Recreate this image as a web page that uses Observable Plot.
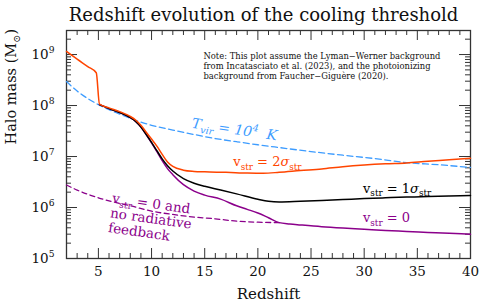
<!DOCTYPE html>
<html><head><meta charset="utf-8">
<script src="https://cdn.jsdelivr.net/npm/d3@7"></script>
<script src="https://cdn.jsdelivr.net/npm/@observablehq/plot@0.6"></script>
<style>
body{margin:0;background:#fff;}
svg{font-family:"DejaVu Serif",serif;}
</style>
</head><body><div id="chart"></div>
<script>
// ---- data ----
const zOrange = [2, 3, 4, 4.8, 5.1, 6, 7, 8, 8.5, 9, 9.5, 10, 10.5, 11, 11.5, 12, 13, 14, 15, 17, 19, 20.5, 22, 24, 26, 28, 30, 32, 34, 36, 38, 40];
const mOrange = [1.15e9, 8.1e8, 5.8e8, 4.4e8, 1.07e8, 9.0e7, 7.6e7, 6.1e7, 5.2e7, 4.1e7, 3.0e7, 2.2e7, 1.6e7, 1.1e7, 7.8e6, 6.4e6, 5.4e6, 5.1e6, 5.0e6, 4.9e6, 4.75e6, 4.7e6, 4.9e6, 5.3e6, 5.7e6, 6.3e6, 6.8e6, 7.2e6, 7.5e6, 8.1e6, 8.6e6, 9.2e6];

const zBlack = [5.1, 6, 7, 8, 8.5, 9, 9.5, 10, 10.5, 11, 11.5, 12, 13, 14, 15, 16.5, 18, 20, 21, 22, 24, 26, 28, 30, 32, 34, 36, 38, 40];
const mBlack = [1.04e8, 8.7e7, 7.3e7, 5.8e7, 4.9e7, 3.8e7, 2.7e7, 1.9e7, 1.3e7, 9.0e6, 6.6e6, 5.2e6, 3.7e6, 3.0e6, 2.6e6, 2.2e6, 1.85e6, 1.45e6, 1.32e6, 1.28e6, 1.32e6, 1.37e6, 1.43e6, 1.5e6, 1.55e6, 1.6e6, 1.64e6, 1.68e6, 1.72e6];

const zPurple = [5.1, 6, 7, 8, 8.5, 9, 9.5, 10, 10.5, 11, 11.5, 12, 13, 14, 15, 16.5, 18, 19, 20, 21, 22, 23, 24, 26, 28, 30, 32, 34, 36, 38, 40];
const mPurple = [1.04e8, 8.7e7, 7.3e7, 5.8e7, 4.9e7, 3.8e7, 2.7e7, 1.85e7, 1.25e7, 8.3e6, 5.8e6, 4.4e6, 2.8e6, 2.1e6, 1.75e6, 1.46e6, 1.08e6, 9.2e5, 7.8e5, 6.3e5, 5.05e5, 4.75e5, 4.55e5, 4.2e5, 3.95e5, 3.75e5, 3.55e5, 3.4e5, 3.25e5, 3.12e5, 3.0e5];

const zNoFb = [2, 3, 4, 5, 6, 7, 8, 10, 12, 14, 16, 18, 20, 22];
const mNoFb = [2.76e6, 2.2e6, 1.82e6, 1.55e6, 1.35e6, 1.2e6, 1.08e6, 8.5e5, 7.3e5, 6.5e5, 6.0e5, 5.4e5, 5.15e5, 5.05e5];

const zTvir = [2, 3, 4, 5, 6, 7, 8, 10, 12, 14, 16, 18, 20, 22, 25, 28, 31, 34, 37, 40];
const mTvir = [2.95e8, 1.92e8, 1.37e8, 1.04e8, 8.3e7, 6.8e7, 5.6e7, 4.1e7, 3.3e7, 2.7e7, 2.25e7, 1.95e7, 1.7e7, 1.5e7, 1.25e7, 1.06e7, 9.1e6, 7.6e6, 6.9e6, 6.1e6];

const xMajor = [5, 10, 15, 20, 25, 30, 35, 40];
const xMinor = d3.range(3, 40).filter(v => v % 5 !== 0);
const yMajor = [1e5, 1e6, 1e7, 1e8, 1e9];
const yMinor = [];
for (let e = 5; e <= 9; e++) for (let k = 2; k <= 9; k++) { const v = k * 10 ** e; if (v < 2.9e9) yMinor.push(v); }

const title = "Redshift evolution of the cooling threshold";
const note = "Note: This plot assume the Lyman\u2212Werner background\nfrom Incatasciato et al. (2023), and the photoionizing\nbackground from Faucher\u2212Gigu\u00e8re (2020).";
const xLabel = "Redshift";
const yLabel = "Halo mass (M_{\u2299})";

// curve labels (text, anchor redshift, anchor mass)
const labTvir = {text: "T_{vir} = 10^{4}  K", z: 17.8, m: 3.37e7};
const lab2s = {text: "v_{str} = 2*{\u03c3}_{str}", z: 20.9, m: 7.7e6};
const lab1s = {text: "v_{str} = 1*{\u03c3}_{str}", z: 33.1, m: 2.34e6};
const lab0 = {text: "v_{str} = 0", z: 32.1, m: 6.3e5};
const labNoFb = {text: "v_{str} = 0 and\nno radiative\nfeedback", z: 6.4, m: 2.0e6};

// ---- layout ----
const W = 479, H = 304, mL = 66, mR = 9, mT = 30, mB = 46;
const FH = H - mT - mB, FW = W - mL - mR;
const C = {orange: "#ff4500", black: "#000000", purple: "#8b008b", blue: "#3d9cff", frame: "#333"};

const rows = (zs, ms) => zs.map((z, i) => ({z, m: ms[i]}));

const line = (zs, ms, stroke, extra = {}) =>
  Plot.line(rows(zs, ms), {x: "z", y: "m", stroke, strokeWidth: 1.5, curve: "monotone-x", ...extra});

const lab = (L, fill, extra = {}) =>
  Plot.text([L], {x: "z", y: "m", text: "text", fill, fontSize: 13, ...extra});

const svg = Plot.plot({
  width: W, height: H,
  marginLeft: mL, marginRight: mR, marginTop: mT, marginBottom: mB,
  style: {fontFamily: "DejaVu Serif, serif", background: "white"},
  x: {domain: [2, 40]},
  y: {type: "log", domain: [1e5, 2.96e9]},
  marks: [
    // ticks (inward, mirrored)
    Plot.tickX(xMajor, {x: d => d, insetTop: FH - 10, stroke: C.frame}),
    Plot.tickX(xMajor, {x: d => d, insetBottom: FH - 10, stroke: C.frame}),
    Plot.tickX(xMinor, {x: d => d, insetTop: FH - 5, stroke: C.frame}),
    Plot.tickX(xMinor, {x: d => d, insetBottom: FH - 5, stroke: C.frame}),
    Plot.tickY(yMajor, {y: d => d, insetRight: FW - 11, stroke: C.frame}),
    Plot.tickY(yMajor, {y: d => d, insetLeft: FW - 11, stroke: C.frame}),
    Plot.tickY(yMinor, {y: d => d, insetRight: FW - 5, stroke: C.frame}),
    Plot.tickY(yMinor, {y: d => d, insetLeft: FW - 5, stroke: C.frame}),
    Plot.frame({stroke: C.frame, strokeWidth: 1.3}),
    // curves
    line(zTvir, mTvir, C.blue, {strokeDasharray: "6,3.5", strokeWidth: 1.3}),
    line(zNoFb, mNoFb, C.purple, {strokeDasharray: "5,3.5", strokeWidth: 1.3}),
    line(zPurple, mPurple, C.purple),
    line(zBlack, mBlack, C.black),
    line(zOrange, mOrange, C.orange),
    // labels
    lab(labTvir, C.blue, {fontSize: 14, fontStyle: "italic", rotate: 8.5}),
    lab(lab2s, C.orange),
    lab(lab1s, C.black),
    lab(lab0, C.purple),
    lab(labNoFb, C.purple, {rotate: 8, textAnchor: "start", lineAnchor: "top", lineHeight: 1.1, fontSize: 13.5}),
    Plot.text([note], {frameAnchor: "top-left", dx: 137, dy: 22, textAnchor: "start", lineAnchor: "top", fontSize: 8.4, lineHeight: 1.17, fill: "#111"}),
    // axes
    Plot.axisX({ticks: xMajor, tickSize: 0, tickPadding: 8, fontSize: 13.5, label: null, color: "#111"}),
    Plot.axisY({ticks: yMajor, tickSize: 0, tickPadding: 12, fontSize: 13.5, label: null, tickFormat: d => "10^{" + Math.round(Math.log10(d)) + "}", color: "#111"}),
    Plot.text([xLabel], {frameAnchor: "bottom", dy: 40, fontSize: 15, fill: "#111"}),
    Plot.text([yLabel], {frameAnchor: "left", dx: -55, rotate: -90, fontSize: 14.5, fill: "#111"}),
    Plot.text([title], {frameAnchor: "top", dx: -5, dy: -22, fontSize: 18, fill: "#111"})
  ]
});

document.getElementById("chart").appendChild(svg);

// rich text: _{sub}, ^{sup}, *{italic}
function richify(root) {
  const NS = "http://www.w3.org/2000/svg";
  const nodes = Array.from(root.querySelectorAll("text, tspan"))
    .filter(n => n.children.length === 0 && /[_^*]\{/.test(n.textContent));
  for (const n of nodes) {
    const s = n.textContent;
    const fs = parseFloat(getComputedStyle(n).fontSize) || 13;
    n.textContent = "";
    let cur = 0;
    const add = (txt, off, small, italic) => {
      const t = document.createElementNS(NS, "tspan");
      t.textContent = txt;
      const dy = off - cur;
      if (Math.abs(dy) > 1e-6) t.setAttribute("dy", dy.toFixed(2));
      cur = off;
      if (small) t.setAttribute("font-size", (fs * 0.68).toFixed(2));
      if (italic) t.setAttribute("font-style", "italic");
      n.appendChild(t);
    };
    const re = /([_^*])\{([^}]*)\}/g;
    let last = 0, m;
    while ((m = re.exec(s))) {
      if (m.index > last) add(s.slice(last, m.index), 0, false, false);
      if (m[1] === "_") add(m[2], fs * 0.28, true, false);
      else if (m[1] === "^") add(m[2], -fs * 0.42, true, false);
      else add(m[2], 0, false, true);
      last = re.lastIndex;
    }
    if (last < s.length) add(s.slice(last), 0, false, false);
  }
}
richify(svg);
</script>
</body></html>
